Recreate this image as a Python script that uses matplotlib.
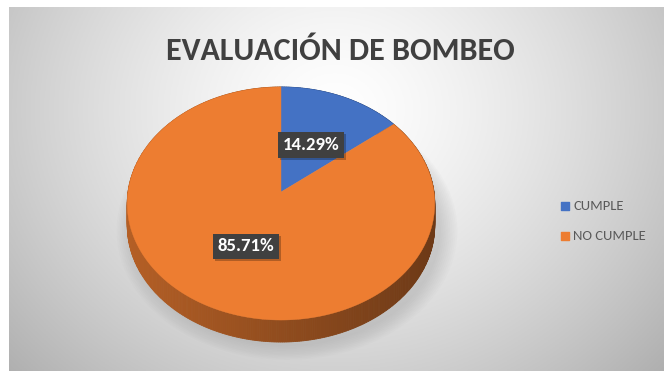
import numpy as np
import matplotlib.pyplot as plt
import matplotlib.patheffects as pe
from matplotlib.patches import Polygon
from matplotlib.colors import to_rgb

categorias = ["CUMPLE", "NO CUMPLE"]
porcentajes = [14.29, 85.71]
colores = ["#4472C4", "#ED7D31"]
titulo = "EVALUACIÓN DE BOMBEO"

plt.rcParams["font.family"] = ["Carlito", "DejaVu Sans"]

W, H = 664, 371
fig = plt.figure(figsize=(W / 100, H / 100), dpi=100)
ax = fig.add_axes([0, 0, 1, 1])
ax.set_xlim(0, W)
ax.set_ylim(H, 0)
ax.axis("off")

# fondo gris con degradado radial
x0, y0 = 9, 7
gx, gy = np.meshgrid(np.linspace(x0, W, 300), np.linspace(y0, H, 200))
r = np.sqrt(((gx - 335) / 380) ** 2 + ((gy - 110) / 330) ** 2)
g = 1 - 0.25 * np.clip(r, 0, 1.3) ** 1.4
ax.imshow(np.dstack([g, g, g]), extent=(x0, W, H, y0), zorder=0, aspect="auto")

# geometria del pastel 3D en perspectiva
cx, cy = 281, 192
A, B, k = 153, 115.4, 0.0987
prof = 22


def proyectar(t, rr=1.0, dz=0.0):
    x = rr * np.sin(t)
    y = rr * np.cos(t)
    s = 1 / (1 + k * y)
    return cx + A * x * s, cy - B * y * s + dz


# sombra suave bajo el pastel
for i in range(10):
    e = 1 + i * 0.012
    t = np.linspace(0, 2 * np.pi, 200)
    xs, ys = proyectar(t)
    ax.fill(cx + (xs - cx) * e + 6, cy + (ys - cy) * e + prof + 4,
            color="#909090", alpha=0.035, lw=0, zorder=1)

fracciones = np.array(porcentajes) / sum(porcentajes)
inicios = np.concatenate([[0], np.cumsum(fracciones)[:-1]]) * 2 * np.pi
fines = np.cumsum(fracciones) * 2 * np.pi

# lateral del pastel
for ini, fin, col in zip(inicios, fines, colores):
    base = np.array(to_rgb(col))
    ts = np.linspace(ini, fin, max(int((fin - ini) * 80), 2))
    for ta, tb in zip(ts[:-1], ts[1:]):
        xa, ya = proyectar(ta)
        xb, yb = proyectar(tb)
        f = 0.76 - 0.3 * ((xa + xb) / 2 - (cx - A)) / (2 * A)
        c = base * f
        ax.add_patch(Polygon([(xa, ya), (xb, yb), (xb, yb + prof), (xa, ya + prof)],
                             closed=True, fc=c, ec=c, lw=0.6, zorder=2))

# cara superior
for ini, fin, col in zip(inicios, fines, colores):
    ts = np.linspace(ini, fin, 200)
    xs, ys = proyectar(ts)
    pts = [(cx, cy)] + list(zip(xs, ys))
    ax.add_patch(Polygon(pts, closed=True, fc=col, ec=col, lw=0.3, zorder=3))

# etiquetas de porcentaje con sombra ligera en la caja
for ini, fin, v, rr in zip(inicios, fines, porcentajes, [0.47, 0.5]):
    lx, ly = proyectar((ini + fin) / 2, rr)
    t = ax.text(lx, ly, f"{v:.2f}%", color="white", fontsize=13.5, fontweight="bold",
                ha="center", va="center", zorder=5,
                bbox=dict(boxstyle="square,pad=0.25", fc="#404040", ec="none"))
    t.get_bbox_patch().set_path_effects(
        [pe.SimplePatchShadow(offset=(1.5, -1.5), shadow_rgbFace="black", alpha=0.25),
         pe.Normal()])

ax.text(340, 60, titulo, color="#404040", fontsize=23, fontweight="bold",
        ha="center", va="baseline", zorder=5)

# leyenda
for i, (nombre, col) in enumerate(zip(categorias, colores)):
    yy = 206 + i * 30
    ax.scatter([565], [yy], marker="s", s=30, color=col, zorder=5)
    ax.text(573, yy, nombre, color="#595959", fontsize=10.5,
            ha="left", va="center", zorder=5)

fig.savefig("out.png", dpi=100)
